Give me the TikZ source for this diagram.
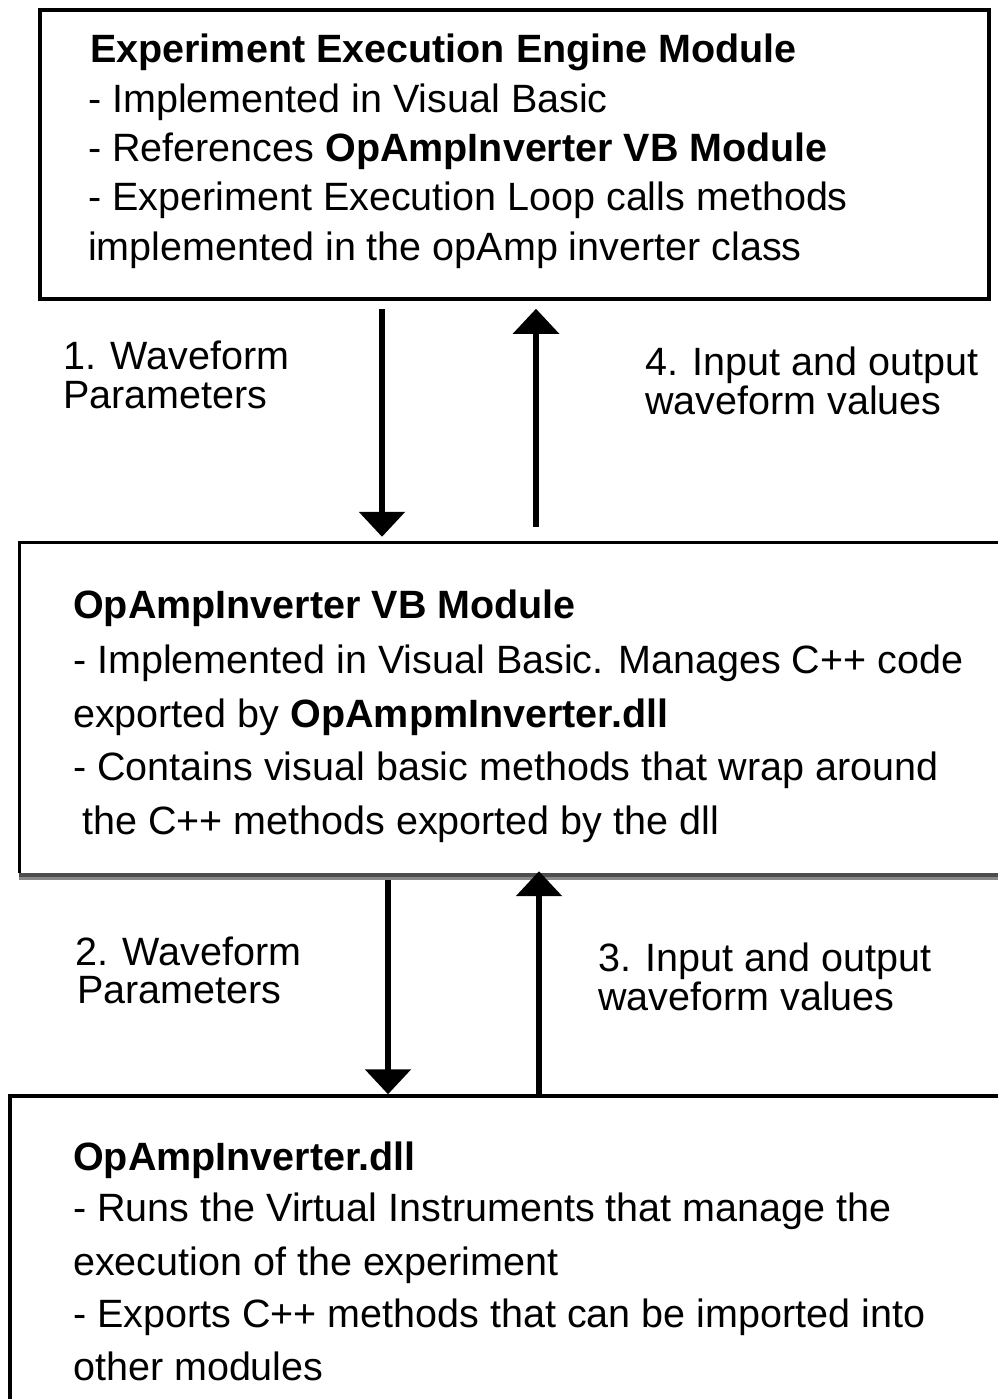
\documentclass[tikz,border=0pt]{standalone}
\usepackage{fontspec}
\setmainfont{Liberation Sans}
\usetikzlibrary{arrows.meta}
\definecolor{bandDark}{HTML}{4D4D4D}
\definecolor{bandLight}{HTML}{888888}
\begin{document}
\begin{tikzpicture}[x=1pt,y=-1pt,
  txt/.style={anchor=base west, inner sep=0pt, font=\fontsize{39.5}{42}\selectfont},
  box/.style={draw, line width=3.5pt, inner sep=0pt},
  arr/.style={line width=6pt, -{Triangle[length=25pt,width=45pt]}}]
\useasboundingbox (0,0) rectangle (997,1399);
% boxes
\node[box, minimum width=949pt, minimum height=289pt] (top) at (514.5,154.5) {};
\node[inner sep=0pt, minimum width=990pt, minimum height=330pt] (mid) at (515,708) {};
\draw[line width=3pt] (mid.south west) -- (mid.north west) -- (mid.north east);
\fill[bandDark] (18.5,873) rectangle (1010,877);
\fill[bandLight] (18.5,877) rectangle (1010,880);
\node[box, minimum width=1000pt, minimum height=324pt] (bot) at (510,1258) {};
% top box text
\node[txt] (t1) at (90,63) {\textbf{Experiment Execution Engine Module}};
\node[txt] (t2) at (88,113) {- Implemented in Visual Basic};
\node[txt] (t3) at (88,162) {- References \textbf{OpAmpInverter VB Module}};
\node[txt] (t4) at (88,211) {- Experiment Execution Loop calls methods};
\node[txt] (t5) at (88,260) {implemented in the opAmp inverter class};
% middle box text
\node[txt] (m1) at (73,618) {\textbf{OpAmpInverter VB Module}};
\node[txt] (m2) at (73,673) {- Implemented in Visual Basic. Manages C++ code};
\node[txt] (m3) at (73,727) {exported by \textbf{OpAmpmInverter.dll}};
\node[txt] (m4) at (73,780) {- Contains visual basic methods that wrap around};
\node[txt] (m5) at (82,834) {the C++ methods exported by the dll};
% bottom box text
\node[txt] (b1) at (73,1170) {\textbf{OpAmpInverter.dll}};
\node[txt] (b2) at (73,1221) {- Runs the Virtual Instruments that manage the};
\node[txt] (b3) at (73,1275) {execution of the experiment};
\node[txt] (b4) at (73,1327) {- Exports C++ methods that can be imported into};
\node[txt] (b5) at (73,1380) {other modules};
% labels
\node[txt] (l1a) at (63,369) {1. Waveform};
\node[txt] (l1b) at (63,408) {Parameters};
\node[txt] (l4a) at (645,375) {4. Input and output};
\node[txt] (l4b) at (645,414) {waveform values};
\node[txt] (l2a) at (75,965) {2. Waveform};
\node[txt] (l2b) at (77,1003) {Parameters};
\node[txt] (l3a) at (598,971) {3. Input and output};
\node[txt] (l3b) at (598,1010) {waveform values};
% arrows
\coordinate (c1) at (382,0);
\coordinate (c4) at (536,0);
\coordinate (c2) at (388,0);
\coordinate (c3) at (539,0);
\draw[arr, shorten <=8pt, shorten >=6pt] (top.south -| c1) -- (mid.north -| c1);
\draw[arr, shorten <=16pt, shorten >=8pt] (mid.north -| c4) -- (top.south -| c4);
\draw[arr, shorten <=7pt] (mid.south -| c2) -- (bot.north -| c2);
\draw[arr, shorten >=-2pt] (bot.north -| c3) -- (mid.south -| c3);
\end{tikzpicture}
\end{document}
